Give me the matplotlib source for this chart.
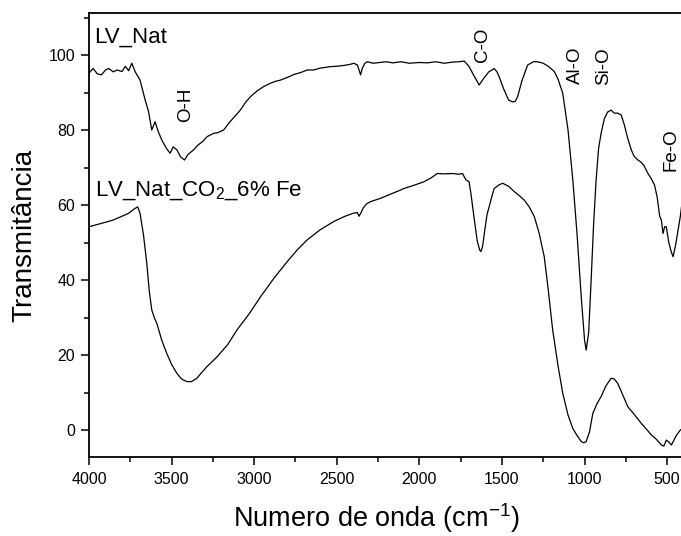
import matplotlib
matplotlib.use("Agg")
import matplotlib.pyplot as plt
from matplotlib.ticker import MultipleLocator

plt.rcParams['font.family'] = ['Liberation Sans', 'DejaVu Sans']
plt.rcParams['mathtext.fontset'] = 'custom'
plt.rcParams['mathtext.rm'] = 'Liberation Sans'
plt.rcParams['mathtext.it'] = 'Liberation Sans:italic'
plt.rcParams['mathtext.bf'] = 'Liberation Sans:bold'

# LV_Nat spectrum (wavenumber, transmittance)
nat_x = [4000, 3994, 3975, 3950, 3925, 3900, 3880, 3853, 3830, 3800, 3780, 3760, 3741, 3720, 3691,
         3660, 3640, 3620, 3600, 3580, 3559, 3530, 3509, 3490, 3468, 3445, 3422, 3400, 3367, 3340,
         3310, 3286, 3246, 3220, 3185, 3150, 3120, 3084, 3050, 3020, 2980, 2942, 2900, 2870, 2841,
         2800, 2760, 2720, 2679, 2640, 2600, 2538, 2500, 2460, 2420, 2396, 2375, 2365, 2356, 2345,
         2330, 2315, 2280, 2240, 2200, 2160, 2113, 2060, 2000, 1950, 1900, 1850, 1800, 1760, 1729,
         1700, 1670, 1638, 1610, 1580, 1560, 1547, 1530, 1517, 1490, 1460, 1436, 1420, 1405, 1380,
         1345, 1310, 1284, 1250, 1220, 1183, 1160, 1132, 1100, 1071, 1045, 1020, 1000, 990, 975,
         960, 945, 930, 915, 900, 880, 860, 839, 820, 800, 778, 760, 740, 717, 700, 677, 660,
         640, 616, 596, 576, 560, 545, 535, 525, 515, 505, 490, 475, 464, 450, 434, 420, 408]
nat_y = [95.0, 95.5, 96.4, 95.0, 94.7, 96.0, 96.4, 95.5, 96.0, 95.6, 97.0, 95.8, 97.8, 95.5, 93.3,
         88.0, 85.0, 80.0, 82.2, 79.5, 77.3, 75.0, 73.8, 75.5, 74.7, 72.8, 72.0, 73.5, 74.7, 76.0,
         77.0, 78.2, 79.1, 79.3, 80.0, 82.0, 83.5, 85.3, 87.5, 89.0, 90.5, 91.6, 92.5, 93.0, 93.3,
         94.0, 94.8, 95.3, 96.0, 96.0, 96.5, 96.9, 97.0, 97.2, 97.5, 97.8, 97.3, 96.0, 94.7, 96.5,
         97.8, 98.2, 97.8, 98.0, 98.2, 97.9, 98.2, 97.8, 98.0, 97.9, 98.2, 97.8, 98.1, 98.2, 98.4,
         97.0, 94.5, 92.0, 93.8, 95.5, 96.0, 96.4, 95.5, 94.2, 91.0, 88.0, 87.5, 87.6, 88.9, 93.0,
         97.3, 98.2, 98.2, 97.8, 97.0, 95.6, 93.5, 89.8, 80.0, 66.7, 52.0, 35.5, 24.0, 21.3, 26.0,
         40.0, 55.0, 66.7, 75.0, 79.1, 83.0, 84.8, 85.3, 84.5, 84.5, 84.0, 81.5, 78.0, 74.7, 73.0,
         72.0, 71.5, 70.5, 68.4, 67.0, 65.3, 62.0, 57.0, 56.0, 52.4, 54.2, 54.2, 50.0, 47.5, 46.2,
         49.0, 53.3, 57.0, 61.3]

# LV_Nat_CO2_6% Fe spectrum
fe_x = [4000, 3950, 3900, 3853, 3800, 3760, 3740, 3721, 3705, 3691, 3670, 3650, 3635, 3620, 3605,
        3589, 3560, 3529, 3500, 3468, 3440, 3407, 3380, 3347, 3320, 3286, 3260, 3225, 3160, 3104,
        3030, 2962, 2880, 2800, 2740, 2679, 2600, 2518, 2450, 2400, 2376, 2365, 2355, 2340, 2320,
        2295, 2234, 2180, 2113, 2093, 2030, 1972, 1930, 1891, 1850, 1800, 1760, 1739, 1718, 1699,
        1688, 1670, 1650, 1635, 1627, 1617, 1605, 1590, 1577, 1560, 1547, 1520, 1496, 1460, 1426,
        1395, 1365, 1335, 1304, 1275, 1244, 1220, 1193, 1160, 1132, 1100, 1071, 1045, 1020, 1005,
        990, 970, 950, 925, 900, 870, 839, 820, 799, 770, 738, 700, 657, 625, 596, 565, 535, 520,
        505, 490, 474, 445, 420, 408]
fe_y = [54.2, 54.8, 55.4, 56.0, 57.0, 57.8, 58.5, 59.1, 59.5, 57.8, 52.0, 44.4, 37.0, 32.0, 30.0,
        28.4, 24.0, 20.4, 17.5, 15.1, 13.6, 12.9, 12.9, 13.8, 15.2, 16.9, 18.0, 19.5, 22.8, 26.7,
        31.0, 35.5, 40.5, 44.9, 48.0, 50.7, 53.4, 55.6, 57.0, 57.8, 58.0, 57.0, 57.8, 59.2, 60.3,
        60.9, 61.8, 62.8, 64.0, 64.4, 65.3, 66.2, 67.2, 68.4, 68.3, 68.4, 68.2, 68.4, 66.7, 66.2,
        63.1, 57.0, 50.5, 48.0, 47.6, 49.0, 53.0, 57.5, 59.6, 62.5, 64.4, 65.3, 65.8, 65.0, 63.6,
        62.5, 61.3, 59.5, 56.9, 52.5, 46.2, 37.5, 26.7, 17.0, 9.8, 4.0, 0.4, -1.5, -3.1, -3.4,
        -3.1, -0.5, 4.4, 7.0, 8.9, 11.8, 13.8, 13.6, 12.4, 9.5, 6.2, 4.2, 1.8, 0.2, -1.3, -2.5, -4.0,
        -4.3, -2.7, -3.2, -4.0, -1.5, 0.0, 0.4]

x_ticks = [4000, 3500, 3000, 2500, 2000, 1500, 1000, 500]
y_ticks = [0, 20, 40, 60, 80, 100]

fig = plt.figure(figsize=(6.81, 5.36), dpi=100)
ax = fig.add_axes([89/681, 79/536, 593/681, 444/536])

ax.plot(nat_x, nat_y, color='black', lw=0.9)
ax.plot(fe_x, fe_y, color='black', lw=0.9)

ax.set_xlim(4000, 410)
ax.set_ylim(-7.2, 111.2)
ax.set_xticks(x_ticks)
ax.set_yticks(y_ticks)
ax.xaxis.set_minor_locator(MultipleLocator(250))
ax.yaxis.set_minor_locator(MultipleLocator(10))
ax.tick_params(which='major', direction='out', length=6, width=1.1, labelsize=11.5)
ax.tick_params(which='minor', direction='out', length=3.5, width=1.1)
ax.tick_params(axis='x', which='major', pad=5)
ax.tick_params(axis='y', which='major', pad=4)
for s in ax.spines.values():
    s.set_linewidth(1.3)

ax.set_xlabel('Numero de onda (cm$^{-1}$)', fontsize=19.5, labelpad=10)
ax.xaxis.set_label_coords(0.484, -0.1)
ax.xaxis.label.set_va('top')
ax.set_ylabel('Transmitância', fontsize=20, labelpad=8)

ax.text(3966, 103.2, 'LV_Nat', fontsize=16, va='baseline', ha='left')
ax.text(3966, 62.4, 'LV_Nat_CO$_2$_6% Fe', fontsize=16, va='baseline', ha='left')
for lab, lx, ly in [('O-H', 3417, 86.7), ('C-O', 1615, 102.7), ('Al-O', 1057, 97.3),
                    ('Si-O', 887, 96.9), ('Fe-O', 477, 74.7)]:
    ax.text(lx, ly, lab, rotation=90, fontsize=13.5, ha='center', va='center')

fig.savefig('out.png', dpi=100)
